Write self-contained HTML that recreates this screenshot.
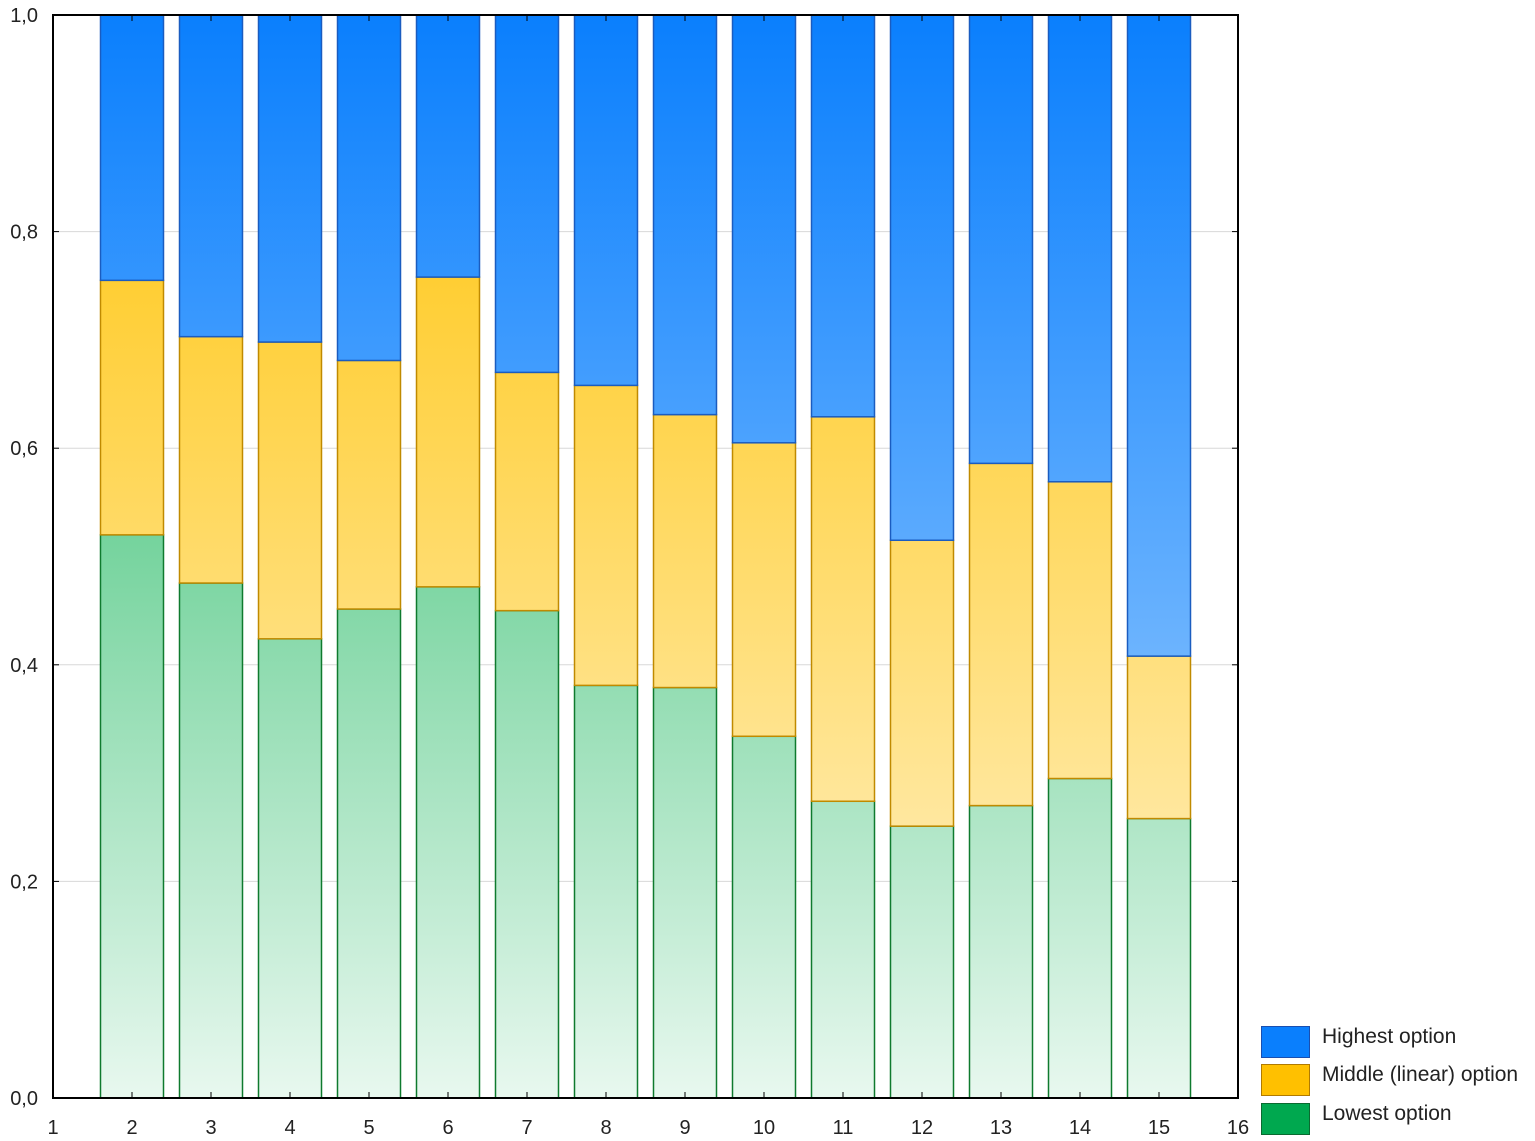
<!DOCTYPE html>
<html><head><meta charset="utf-8"><style>
body{margin:0;background:#fff;}
svg{display:block;font-family:"Liberation Sans",sans-serif;}
</style></head><body>
<svg id="chart" width="1535" height="1141" viewBox="0 0 1535 1141">
<defs>
<linearGradient id="gB" gradientUnits="userSpaceOnUse" x1="0" y1="15" x2="0" y2="1098"><stop offset="0" stop-color="#0a7ffd"/><stop offset="1" stop-color="#b0d8ff"/></linearGradient>
<linearGradient id="gY" gradientUnits="userSpaceOnUse" x1="0" y1="15" x2="0" y2="1098"><stop offset="0" stop-color="#ffc200"/><stop offset="1" stop-color="#fff4d4"/></linearGradient>
<linearGradient id="gG" gradientUnits="userSpaceOnUse" x1="0" y1="15" x2="0" y2="1098"><stop offset="0" stop-color="#0ab151"/><stop offset="1" stop-color="#e8f8ef"/></linearGradient>
</defs>
<g id="grid"></g><g id="bars"></g><g id="axes"></g>
<g>
<rect x="1261.5" y="1026.5" width="48" height="31" fill="#0a7ffd" stroke="#1a4fb0"/>
<text x="1322" y="1043" font-size="21" fill="#222">Highest option</text>
<rect x="1261.5" y="1064.5" width="48" height="31" fill="#ffc000" stroke="#b07a00"/>
<text x="1322" y="1081" font-size="21" fill="#222">Middle (linear) option</text>
<rect x="1261.5" y="1103.5" width="48" height="31" fill="#00a84f" stroke="#0a6a30"/>
<text x="1322" y="1120" font-size="21" fill="#222">Lowest option</text>
</g>
</svg>
<script>
const categories=[2,3,4,5,6,7,8,9,10,11,12,13,14,15];
const lowest=[0.520,0.4755,0.424,0.4515,0.472,0.450,0.381,0.379,0.334,0.274,0.251,0.270,0.295,0.258];
const middle=[0.235,0.2275,0.274,0.2295,0.286,0.220,0.277,0.252,0.271,0.355,0.264,0.316,0.274,0.150];
const xTicks=[1,2,3,4,5,6,7,8,9,10,11,12,13,14,15,16];
const yTicks=[0,0.2,0.4,0.6,0.8,1.0];
const yLabels=["0,0","0,2","0,4","0,6","0,8","1,0"];
const L=53,R=1238,T=15,B=1098;
const xs=v=>L+(v-1)*(R-L)/15;
const ys=v=>B-v*(B-T);
const NS="http://www.w3.org/2000/svg";
function mk(tag,attrs,parent){const e=document.createElementNS(NS,tag);for(const k in attrs)e.setAttribute(k,attrs[k]);parent.appendChild(e);return e;}
const grid=document.getElementById('grid'),bars=document.getElementById('bars'),axes=document.getElementById('axes');
yTicks.forEach((t,i)=>{
 if(t>0&&t<1){const g=mk('line',{x1:L,x2:R,y1:ys(t),y2:ys(t),stroke:'#d8d8d8','stroke-width':1},grid);
 
 }
 const tl=mk('text',{x:L-15,y:ys(t)+7,'font-size':20,'text-anchor':'end',fill:'#222'},axes);tl.textContent=yLabels[i];
 
 
 mk('line',{x1:L,x2:L+6,y1:ys(t),y2:ys(t),stroke:'#000'},axes);
 mk('line',{x1:R-6,x2:R,y1:ys(t),y2:ys(t),stroke:'#000'},axes);
});
xTicks.forEach(t=>{
 const tl=mk('text',{x:xs(t),y:1134,'font-size':20,'text-anchor':'middle',fill:'#222'},axes);tl.textContent=t;
 
 
 mk('line',{x1:xs(t),x2:xs(t),y1:B,y2:B-6,stroke:'#000'},axes);
 mk('line',{x1:xs(t),x2:xs(t),y1:T,y2:T+6,stroke:'#000'},axes);
});
const bw=63;
categories.forEach((c,i)=>{
 const x=xs(c)-bw/2,lo=lowest[i],mid=lo+middle[i];
 const g=mk('rect',{x:x,y:ys(lo),width:bw,height:ys(0)-ys(lo),fill:'url(#gG)',stroke:'#0f7a2e','stroke-width':1.5},bars);
 
 
 const y=mk('rect',{x:x,y:ys(mid),width:bw,height:ys(lo)-ys(mid),fill:'url(#gY)',stroke:'#c08a00','stroke-width':1.5},bars);
 
 
 const b=mk('rect',{x:x,y:ys(1),width:bw,height:ys(mid)-ys(1),fill:'url(#gB)',stroke:'#1a5cc0','stroke-width':1.5},bars);
 
 
});
const f=mk('rect',{x:L,y:T,width:R-L,height:B-T,fill:'none',stroke:'#000','stroke-width':2},axes);


</script>
</body></html>
